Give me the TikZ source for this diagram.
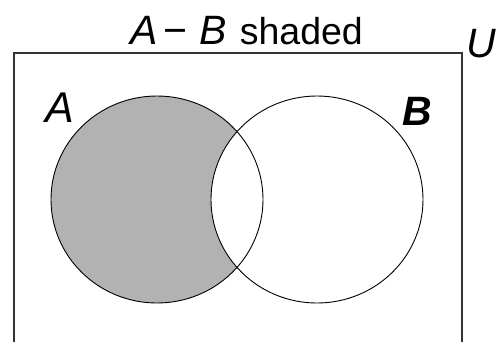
\documentclass[tikz,border=0pt]{standalone}
\usepackage{fontspec}
\setmainfont{Liberation Sans}
\usepackage{tikz}
\usetikzlibrary{positioning}

\definecolor{shadegray}{RGB}{178,178,178}

\begin{document}
\begin{tikzpicture}[
    x=1pt, y=-1pt,
    every node/.style={inner sep=0pt, text=black},
    box_line/.style={draw=black!80, line width=1.4pt},
    set_line/.style={draw=black, line width=0.9pt},
    shade_fill/.style={fill=shadegray},
    title_font/.style={font=\fontsize{37.5}{40}\selectfont},
    set_label/.style={font=\fontsize{43}{48}\selectfont\itshape},
    set_labelb/.style={font=\fontsize{41}{46}\selectfont\bfseries\itshape},
    univ_label/.style={font=\fontsize{41}{46}\selectfont\itshape}
]
\useasboundingbox (0,0) rectangle (497,341);
\clip (0,0) rectangle (497,341);

% Set centres
\coordinate (cA) at (157,199.5);
\coordinate (cB) at (317,199.5);

% Universe
\draw[box_line] (14,360) |- (462,53) -- (462,360);

% A - B shaded
\fill[shade_fill] (cA) ellipse [x radius=106, y radius=103.5];
\fill[white] (cB) ellipse [x radius=106, y radius=103.5];
\draw[set_line] (cA) ellipse [x radius=106, y radius=103.5];
\draw[set_line] (cB) ellipse [x radius=106, y radius=103.5];

% Labels
\node[title_font, anchor=base west] (title) at (130,44)
    {{\fontsize{41}{46}\selectfont\textit{A}\hspace{6pt}−\hspace{12pt}\textit{B}}\hspace{13pt}shaded};
\node[set_label, anchor=base west] (labA) at (45,122) {A};
\node[set_labelb, anchor=base west] (labB) at (402,125) {B};
\node[univ_label, anchor=base west] (labU) at (466,57) {U};

\end{tikzpicture}
\end{document}
